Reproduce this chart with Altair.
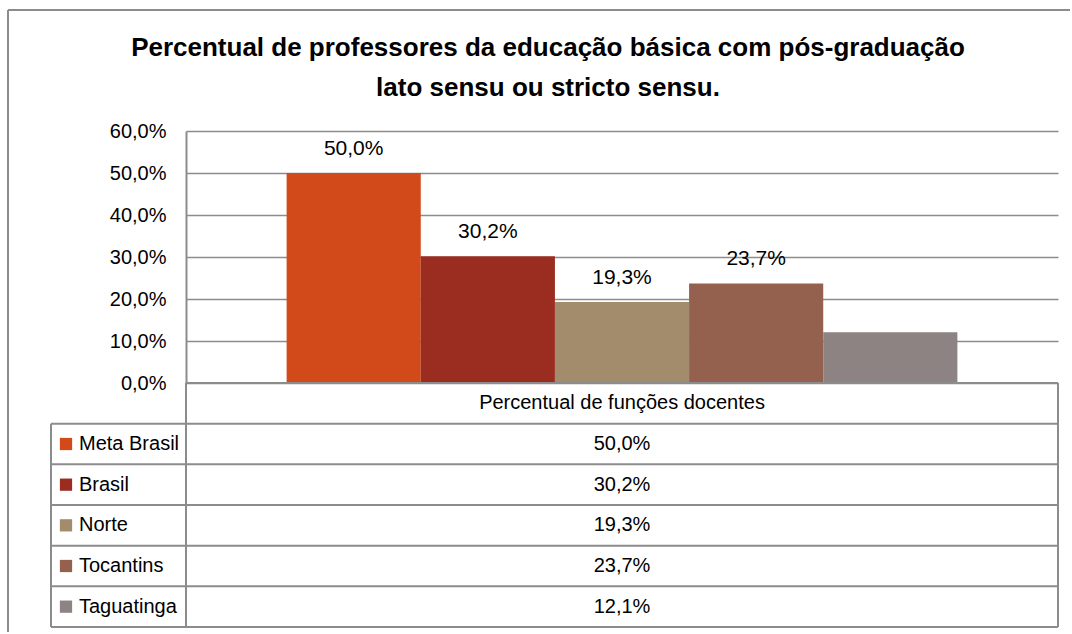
import altair as alt
import pandas as pd

# Series shown as bars and as rows of the data table below the plot
series = ["Meta Brasil", "Brasil", "Norte", "Tocantins", "Taguatinga"]
values = [0.500, 0.302, 0.193, 0.237, 0.121]
colors = ["#D24A19", "#9A2C20", "#A38C6B", "#94614F", "#8E8383"]
labelled = [True, True, True, True, False]
category = "Percentual de funções docentes"
y_ticks = [0.0, 0.1, 0.2, 0.3, 0.4, 0.5, 0.6]
title_lines = [
    "Percentual de professores da educação básica com pós-graduação",
    "lato sensu ou stricto sensu.",
]

FONT = "Liberation Sans, Arial, sans-serif"
LINE = "#8c8c8c"
W, H = 872, 252            # plot area
TABLE_BOTTOM = 496         # bottom of the data table, below the plot
LEGEND_W = 135             # width of the legend column of the table
ROW = (TABLE_BOTTOM - H) / (len(series) + 1)


def pct(v):
    return f"{v * 100:.1f}%".replace(".", ",")


bars_df = pd.DataFrame({
    "series": series,
    "value": values,
    "label": [pct(v) for v in values],
    "shown": labelled,
})
table_df = pd.DataFrame({
    "row": [category] + series,
    "text": [category] + [pct(v) for v in values],
})
one = pd.DataFrame({"k": [0]})

band = alt.Scale(type="band", domain=series, paddingInner=0, paddingOuter=0.75)
x_bar = alt.X("series:N", sort=series, scale=band, axis=None)
x_mid = alt.X("series:N", sort=series, scale=band, axis=None, bandPosition=0.5)
y_scale = alt.Scale(domain=[0, 0.6], nice=False, zero=True)
y_axis = alt.Axis(values=y_ticks, title=None, ticks=False, labelPadding=20,
                  labelFont=FONT, labelFontSize=20, labelColor="black",
                  labelExpr="replace(format(datum.value, '.1%'), '.', ',')",
                  grid=True, gridColor=LINE, gridWidth=1.5,
                  domain=True, domainColor=LINE, domainWidth=2)
color = alt.Color("series:N", scale=alt.Scale(domain=series, range=colors), legend=None)

bars = alt.Chart(bars_df).mark_bar().encode(
    x=x_bar, y=alt.Y("value:Q", scale=y_scale, axis=y_axis), color=color
)
bar_text = alt.Chart(bars_df).transform_filter("datum.shown").mark_text(
    dy=-18, baseline="alphabetic", align="center", font=FONT, fontSize=21, color="black"
).encode(
    x=x_mid, y=alt.Y("value:Q", scale=y_scale, axis=None), text="label:N"
)

# Data table: one band per row, header first
rows = [category] + series
row_scale = alt.Scale(type="band", domain=rows, range=[H, TABLE_BOTTOM],
                      paddingInner=0, paddingOuter=0)
row_mid = alt.Y("row:N", sort=rows, scale=row_scale, axis=None, bandPosition=0.5)
row_top = alt.Y("row:N", sort=rows, scale=row_scale, axis=None, bandPosition=0)

cell_text = alt.Chart(table_df).mark_text(
    align="center", baseline="middle", font=FONT, fontSize=20, color="black"
).encode(x=alt.value(W / 2), y=row_mid, text="text:N")

legend_df = pd.DataFrame({"row": series, "series": series})
legend_marks = alt.Chart(legend_df).mark_square(size=150, opacity=1).encode(
    x=alt.value(-LEGEND_W + 15), y=row_mid, color=color
)
legend_text = alt.Chart(legend_df).mark_text(
    align="left", baseline="middle", font=FONT, fontSize=20, color="black"
).encode(x=alt.value(-LEGEND_W + 28), y=row_mid, text="row:N")

row_lines = alt.Chart(legend_df).mark_rule(color=LINE, strokeWidth=2).encode(
    y=row_top, x=alt.value(-LEGEND_W), x2=alt.value(W)
)


def rule(x, x2, y, y2):
    return alt.Chart(one).mark_rule(color=LINE, strokeWidth=2).encode(
        x=alt.value(x), x2=alt.value(x2), y=alt.value(y), y2=alt.value(y2)
    )


frame = [
    rule(0, W, H, H),                                   # top of table header
    rule(-LEGEND_W, W, TABLE_BOTTOM, TABLE_BOTTOM),     # bottom of table
    rule(-LEGEND_W, -LEGEND_W, H + ROW, TABLE_BOTTOM),  # left of legend column
    rule(0, 0, H, TABLE_BOTTOM),                        # divider under the axis
    rule(W, W, H, TABLE_BOTTOM),                        # right of table
    rule(-178, 884, -121, -121),                        # outer border, top
    rule(-178, -178, -121, 501),                        # outer border, left
]

title = alt.Chart(one).mark_text(
    align="center", baseline="alphabetic", font=FONT, fontSize=26,
    fontWeight="bold", color="black", lineHeight=40
).encode(x=alt.value(362), y=alt.value(-75), text=alt.value(title_lines))

chart = alt.layer(
    bars, bar_text, cell_text, legend_marks, legend_text, row_lines, *frame, title
).resolve_scale(
    x="independent", y="independent"
).properties(
    width=W, height=H, padding={"left": 7, "top": 9, "right": 0, "bottom": 0},
    background="white"
).configure_view(stroke=None)

chart.save("out.html", embed_options={"renderer": "svg", "actions": False})
